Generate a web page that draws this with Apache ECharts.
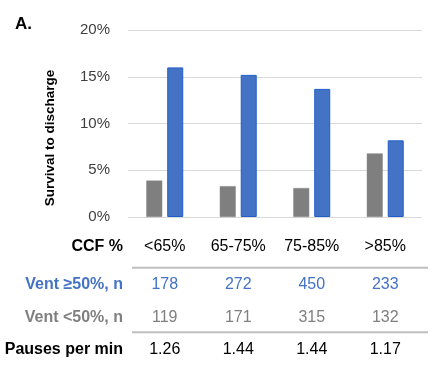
<!DOCTYPE html>
<html>
<head>
<meta charset="utf-8">
<script src="https://cdn.jsdelivr.net/npm/echarts@6/dist/echarts.min.js"></script>
<style>
  html, body { margin: 0; padding: 0; background: #fff; }
  #chart { width: 441px; height: 375px; }
</style>
</head>
<body>
<div id="chart"></div>
<script>
var categories = ['<65%', '65-75%', '75-85%', '>85%'];
var ventLow = [3.9, 3.3, 3.1, 6.8];      // Vent <50%, survival %
var ventHigh = [16.0, 15.2, 13.7, 8.2];  // Vent >=50%, survival %
var nHigh = ['178', '272', '450', '233'];
var nLow = ['119', '171', '315', '132'];
var pauses = ['1.26', '1.44', '1.44', '1.17'];

var font = 'Liberation Sans';
var blue = '#4472C4';
var gray = '#7F7F7F';

var myChart = echarts.init(document.getElementById('chart'));

// extra category axes used as table rows under the chart
function rowAxis(data, margin, color) {
  return {
    type: 'category',
    position: 'bottom',
    data: data,
    axisLine: { show: false },
    axisTick: { show: false },
    axisLabel: {
      margin: margin,
      verticalAlign: 'middle',
      color: color,
      fontSize: 16,
      fontFamily: font
    }
  };
}

// row titles on the left of the table
function rowTitle(text, y, color) {
  return {
    type: 'text', x: 123, y: y,
    style: { text: text, fontSize: 16, fontWeight: 'bold', fill: color, fontFamily: font, align: 'right', verticalAlign: 'middle' }
  };
}

var option = {
  animation: false,
  textStyle: { fontFamily: font },
  grid: { left: 128, right: 19, top: 30, bottom: 158 },
  xAxis: [
    rowAxis(categories, 30, '#000'),
    rowAxis(nHigh, 68, blue),
    rowAxis(nLow, 100.5, gray),
    rowAxis(pauses, 132.5, '#000')
  ],
  yAxis: {
    type: 'value',
    min: 0,
    max: 20,
    interval: 5,
    axisLine: { show: false },
    axisTick: { show: false },
    axisLabel: { formatter: '{value}%', fontSize: 15, color: '#404040', margin: 18, fontFamily: font },
    splitLine: { lineStyle: { color: '#D9D9D9', width: 1 } }
  },
  series: [
    {
      name: 'Vent <50%',
      type: 'bar',
      data: ventLow,
      barWidth: 16,
      barGap: '31%',
      itemStyle: { color: gray, borderColor: '#8C8C8C', borderWidth: 0.5 }
    },
    {
      name: 'Vent ≥50%',
      type: 'bar',
      data: ventHigh,
      barWidth: 16,
      itemStyle: { color: blue, borderColor: '#1F5FCC', borderWidth: 1 }
    }
  ],
  graphic: [
    { type: 'text', x: 15, y: 24, style: { text: 'A.', fontSize: 17, fontWeight: 'bold', fill: '#000', fontFamily: font, verticalAlign: 'middle' } },
    {
      type: 'text', x: 50, y: 138, rotation: Math.PI / 2,
      style: { text: 'Survival to discharge', fontSize: 13.5, fontWeight: 'bold', fill: '#000', fontFamily: font, align: 'center', verticalAlign: 'middle' }
    },
    rowTitle('CCF %', 246.7, '#000'),
    rowTitle('Vent ≥50%, n', 285, blue),
    rowTitle('Vent <50%, n', 317.3, gray),
    rowTitle('Pauses per min', 349.3, '#000'),
    { type: 'line', shape: { x1: 132, y1: 267.7, x2: 428, y2: 267.7 }, style: { stroke: '#BFBFBF', lineWidth: 2 } },
    { type: 'line', shape: { x1: 132, y1: 332.3, x2: 428, y2: 332.3 }, style: { stroke: '#BFBFBF', lineWidth: 2 } }
  ]
};

myChart.setOption(option);
</script>
</body>
</html>
